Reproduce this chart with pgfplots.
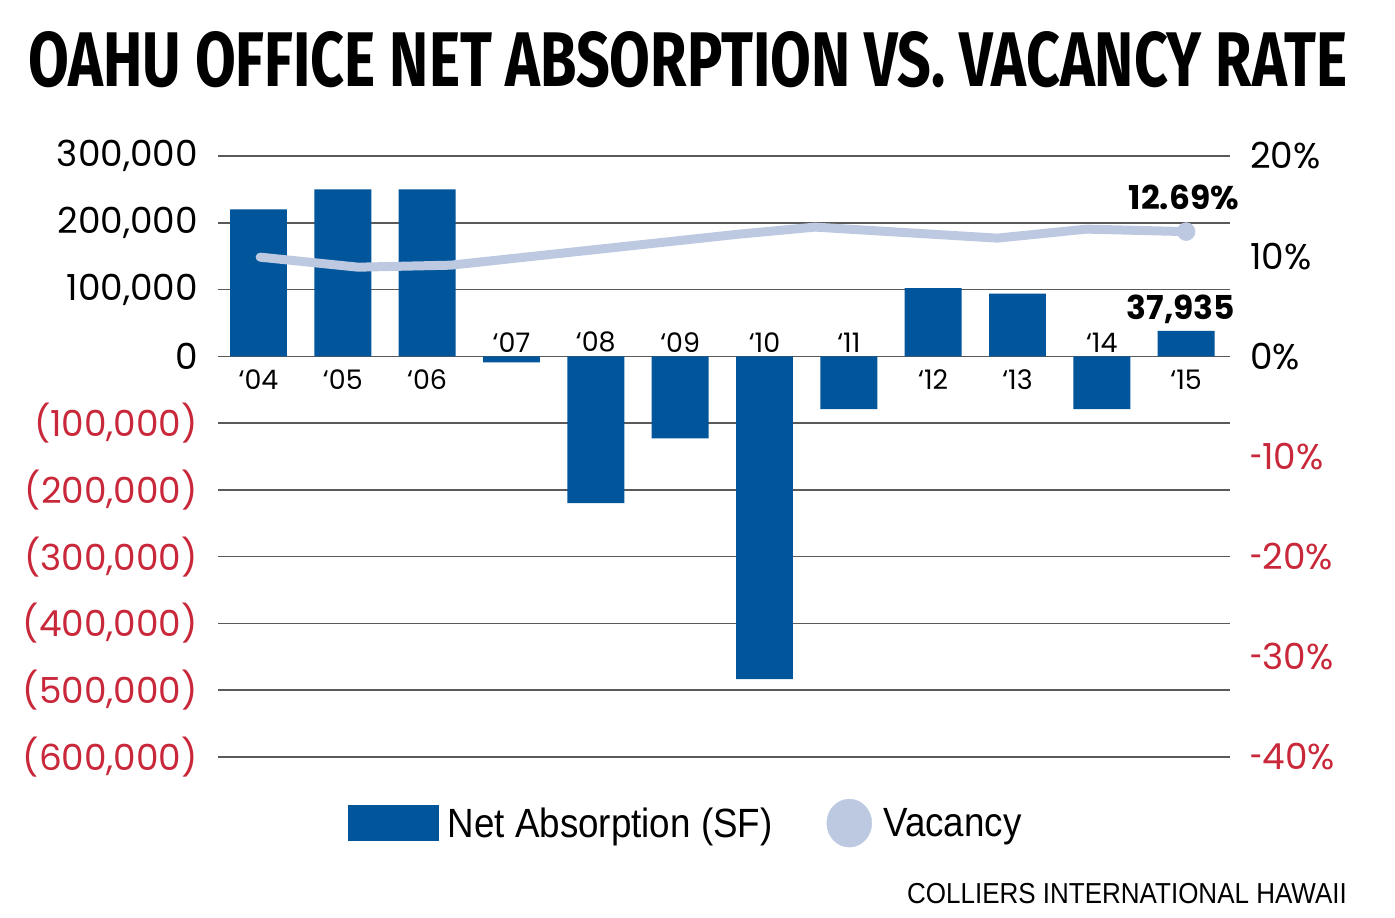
\documentclass[border=0pt]{standalone}
\usepackage{fontspec}
\usepackage{pgfplots}
\pgfplotsset{compat=1.18}
\setmainfont{Poppins}
\newfontfamily\condfont{Liberation Sans}[FakeStretch=0.9]
\newfontfamily\titlefont{Fira Sans}
\definecolor{barblue}{HTML}{00559B}
\definecolor{vacline}{HTML}{BDC9E1}
\definecolor{negred}{HTML}{C8283A}
\definecolor{gridgray}{HTML}{5A5A5A}
\newcommand\hy{\scalebox{0.62}[1]{-}}
\begin{document}
\begin{tikzpicture}
\useasboundingbox (0,0) rectangle (1395bp,918bp);
\node[anchor=south west, inner sep=0pt] at (28bp,830bp)
  {\resizebox{1319bp}{55bp}{\titlefont\bfseries OAHU OFFICE NET ABSORPTION VS. VACANCY RATE}};
\node[anchor=base east, inner sep=0pt] at (1347bp,15bp)
  {\condfont\fontsize{29}{32}\selectfont COLLIERS INTERNATIONAL HAWAII};

\begin{axis}[
  at={(218bp,161bp)}, anchor=south west,
  scale only axis, width=1012bp, height=601bp,
  xmin=-0.48, xmax=11.52, ymin=-600000, ymax=300000,
  axis line style={draw=none}, major tick style={draw=none},
  xtick=\empty, scaled y ticks=false,
  ytick={-600000,-500000,-400000,-300000,-200000,-100000,0,100000,200000,300000},
  yticklabels={{\textcolor{negred}{(600,000)}},{\textcolor{negred}{(500,000)}},{\textcolor{negred}{(400,000)}},{\textcolor{negred}{(300,000)}},{\textcolor{negred}{(200,000)}},{\textcolor{negred}{(100,000)}},{0},{100,000},{200,000},{300,000}},
  yticklabel style={font=\fontsize{36}{40}\selectfont, anchor=east, inner sep=0pt, xshift=-20bp},
  ymajorgrids, grid style={gridgray, line width=1.6bp},
  clip=false,
]
\addplot[ybar, bar width=0.675, bar shift=0pt, fill=barblue, draw=none] coordinates {
  (0,220000) (1,250000) (2,250000) (3,-9000) (4,-220000) (5,-123000)
  (6,-483500) (7,-79000) (8,102000) (9,94000) (10,-79000) (11,37935)};
\begin{scope}[every node/.style={inner sep=0pt, font=\fontsize{27}{30}\selectfont}]
\node[anchor=north] at (axis cs:0,0) [yshift=-13bp] {‘04};
\node[anchor=north] at (axis cs:1,0) [yshift=-13bp] {‘05};
\node[anchor=north] at (axis cs:2,0) [yshift=-13bp] {‘06};
\node[anchor=south] at (axis cs:3,0) [yshift=4bp] {‘07};
\node[anchor=south] at (axis cs:4,0) [yshift=4bp] {‘08};
\node[anchor=south] at (axis cs:5,0) [yshift=4bp] {‘09};
\node[anchor=south] at (axis cs:6,0) [yshift=4bp] {‘10};
\node[anchor=south] at (axis cs:7,0) [yshift=4bp] {‘11};
\node[anchor=north] at (axis cs:8,0) [yshift=-13bp] {‘12};
\node[anchor=north] at (axis cs:9,0) [yshift=-13bp] {‘13};
\node[anchor=south] at (axis cs:10,0) [yshift=4bp] {‘14};
\node[anchor=north] at (axis cs:11,0) [yshift=-13bp] {‘15};
\end{scope}
\node[anchor=south east, inner sep=0pt, font=\fontsize{33}{36}\selectfont\bfseries] at (axis cs:11,37935) [xshift=49bp, yshift=7bp] {37,935};
\end{axis}

\begin{axis}[
  at={(218bp,161bp)}, anchor=south west,
  scale only axis, width=1012bp, height=601bp,
  xmin=-0.48, xmax=11.52, ymin=-40, ymax=20,
  axis line style={draw=none}, major tick style={draw=none},
  xtick=\empty,
  ytick={-40,-30,-20,-10,0,10,20},
  yticklabels={{\textcolor{negred}{\hy40\%}},{\textcolor{negred}{\hy30\%}},{\textcolor{negred}{\hy20\%}},{\textcolor{negred}{\hy10\%}},{0\%},{10\%},{20\%}},
  yticklabel pos=right,
  yticklabel style={font=\fontsize{36}{40}\selectfont, anchor=west, inner sep=0pt, xshift=20bp},
  clip=false,
  legend style={at={(0.462,-0.11)}, anchor=center, draw=none, fill=none,
    legend columns=2, font=\condfont\fontsize{41}{44}\selectfont,
    /tikz/every even column/.append style={column sep=52bp},
    legend cell align=left},
]
\addlegendimage{legend image code/.code={\fill[barblue] (0bp,-17.5bp) rectangle (90bp,17.5bp); \path[draw=none,fill=none] (0bp,0bp) -- (98bp,0bp);}}
\addlegendentry{Net Absorption (SF)}
\addlegendimage{legend image code/.code={\fill[vacline] (22bp,0bp) ellipse [x radius=22.5bp, y radius=24bp]; \path[draw=none,fill=none] (0bp,0bp) -- (54bp,0bp);}}
\addlegendentry{Vacancy}
\addplot[forget plot, color=vacline, line width=9bp, line join=round, line cap=round, mark=none] coordinates {
  (0.02,9.9) (1.18,8.9) (2.28,9.1) (5.70,12.2) (6.60,12.9) (8.76,11.8) (9.82,12.7) (11,12.45)};
\addplot[forget plot, only marks, mark=*, mark size=9bp, color=vacline] coordinates {(11,12.45)};
\node[anchor=south east, inner sep=0pt, font=\fontsize{33}{36}\selectfont\bfseries] at (axis cs:11,12.45) [xshift=53bp, yshift=22bp] {12.69\%};
\end{axis}
\end{tikzpicture}
\end{document}
